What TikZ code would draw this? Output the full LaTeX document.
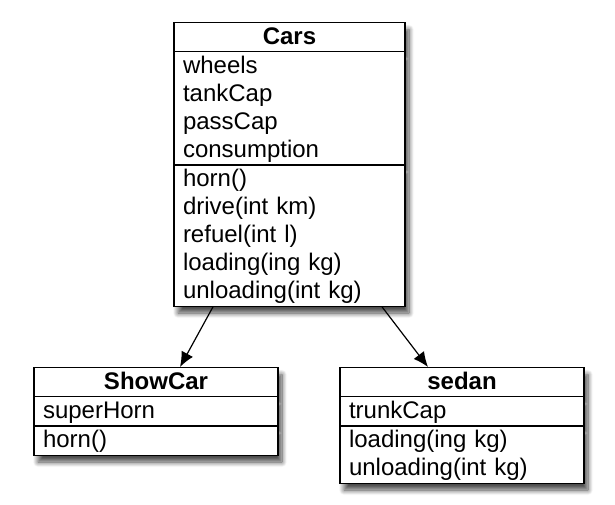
\documentclass[tikz,border=0pt]{standalone}
\usepackage{fontspec}
\setmainfont{Liberation Sans}
\usetikzlibrary{shapes.multipart,shadows.blur,arrows.meta}
\newcommand{\umlstrut}{\rule[-7pt]{0pt}{28pt}}
\newcommand{\umltitle}[1]{\hbox to\hsize{\hss\textbf{#1}\umlstrut\hss}}
\tikzset{umlclass/.style={rectangle split, rectangle split parts=3, draw, line width=1.2pt, fill=white, inner xsep=9pt, inner ysep=0pt, font=\fontsize{24}{28}\selectfont, blur shadow={shadow xshift=4pt, shadow yshift=-7pt, shadow blur steps=10, shadow blur radius=5pt, shadow opacity=70}}}
\tikzset{inherit/.style={-{Latex[length=15pt,width=13pt]}, line width=1.2pt}}

\begin{document}
\begin{tikzpicture}[x=1pt,y=-1pt]
  \useasboundingbox (0,0) rectangle (615,504);
  %% Classes
  \draw (289.5,22) node[umlclass,anchor=north,text width=213pt] (cars) {\umltitle{Cars}
    \nodepart{second}\umlstrut wheels\\tankCap\\passCap\\consumption\umlstrut
    \nodepart{third}\umlstrut horn()\\drive(int km)\\refuel(int l)\\loading(ing kg)\\unloading(int kg)\umlstrut};

  \draw (156,367) node[umlclass,anchor=north,text width=226pt] (showcar) {\umltitle{ShowCar}
    \nodepart{second}\umlstrut superHorn\umlstrut
    \nodepart{third}\umlstrut horn()\umlstrut};

  \draw (462,367) node[umlclass,anchor=north,text width=226pt] (sedan) {\umltitle{sedan}
    \nodepart{second}\umlstrut trunkCap\umlstrut
    \nodepart{third}\umlstrut loading(ing kg)\\unloading(int kg)\umlstrut};

  %% Inheritance
  \draw[inherit] ([xshift=-76.5pt]cars.south) -- ([xshift=24pt]showcar.north);
  \draw[inherit] ([xshift=92.5pt]cars.south) -- ([xshift=-34pt]sedan.north);
\end{tikzpicture}
\end{document}
